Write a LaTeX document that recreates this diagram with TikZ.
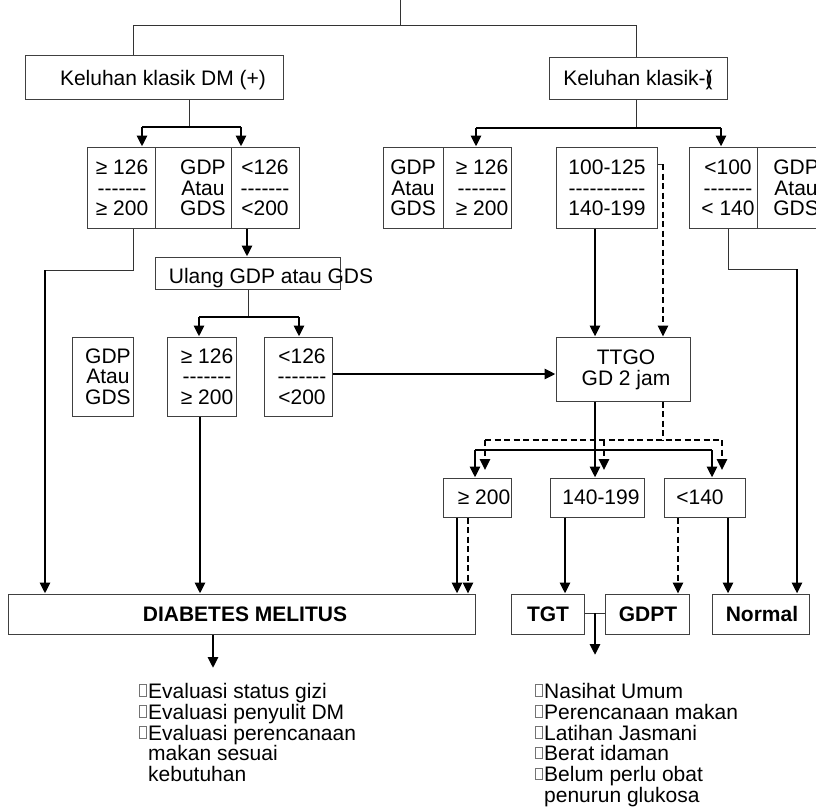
\documentclass[tikz,border=0pt]{standalone}
\usepackage{fontspec}
\setmainfont{Liberation Sans}
\usetikzlibrary{arrows.meta}
\newcommand\hh{-\kern0pt}
\newcommand\sqb{\raisebox{2.5pt}{\fboxsep0pt\fboxrule0.5pt\color{black!55}\fbox{\rule{0pt}{11pt}\hspace{6.5pt}}}\hspace{1.5pt}}
\newcommand\mkbox[5]{\node[box, minimum width={(#4-#2)*1pt}, minimum height={(#5-#3)*1pt}] (#1) at ({(#2+#4)/2},{(#3+#5)/2}) {};}
\begin{document}
\begin{tikzpicture}[x=1pt,y=-1pt,
  box/.style={draw=black!75, line width=1pt, inner sep=0pt},
  t/.style={font=\fontsize{21}{20.5}\selectfont, inner sep=0pt, align=center},
  lst/.style={font=\fontsize{21}{20.8}\selectfont, inner sep=0pt, align=left},
  thinl/.style={line width=1pt, draw=black!80},
  med/.style={line width=1.8pt},
  thk/.style={line width=2.8pt},
  arr/.style={-{Triangle[width=10pt,length=11pt]}},
  dsh/.style={line width=2.5pt, dash pattern=on 6pt off 3.5pt}]
\useasboundingbox (0,0) rectangle (816,806);
% boxes
\mkbox{kdm}{25}{55}{283}{99}
\mkbox{kneg}{549}{57}{727}{99}
\mkbox{a1}{87}{147}{155}{228}
\mkbox{a2}{155}{147}{231}{228}
\mkbox{a3}{231}{147}{299}{228}
\mkbox{ulang}{155}{257}{340}{289}
\mkbox{b0}{72}{337}{133}{416}
\mkbox{b1}{167}{337}{236}{416}
\mkbox{b2}{264}{337}{332}{416}
\mkbox{c0}{383}{147}{443}{228}
\mkbox{c1}{443}{147}{511}{228}
\mkbox{c2}{556}{147}{657}{228}
\mkbox{c3}{689}{147}{757}{228}
\mkbox{c4}{757}{147}{840}{228}
\mkbox{ttgo}{556}{337}{690}{401}
\mkbox{d1}{443}{478}{511}{517}
\mkbox{d2}{550}{478}{644}{517}
\mkbox{d3}{664}{478}{745}{517}
\mkbox{dm}{8}{594}{475}{634}
\mkbox{tgt}{511}{594}{584}{634}
\mkbox{gdpt}{605}{594}{689}{634}
\mkbox{normal}{712}{594}{809}{634}
% texts
\node[t, anchor=base] (kdmT) at (163,85) {Keluhan klasik DM (+)};
\node[t, anchor=base] (knegT) at (638,85) {Keluhan klasik-\rlap{(})};
\node[t] (a1T) at (122,188) {≥ 126\\\hh\hh\hh\hh\hh\hh-\\≥ 200};
\node[t] (a2T) at (203,188) {GDP\\Atau\\GDS};
\node[t] (a3T) at (265,188) {<126\\\hh\hh\hh\hh\hh\hh-\\<200};
\node[t, anchor=base] (ulangT) at (271,283) {Ulang GDP atau GDS};
\node[t] (b0T) at (108,376.5) {GDP\\Atau\\GDS};
\node[t] (b1T) at (207,376.5) {≥ 126\\\hh\hh\hh\hh\hh\hh-\\≥ 200};
\node[t] (b2T) at (302,376.5) {<126\\\hh\hh\hh\hh\hh\hh-\\<200};
\node[t] (c0T) at (413,188) {GDP\\Atau\\GDS};
\node[t] (c1T) at (482,188) {≥ 126\\\hh\hh\hh\hh\hh\hh-\\≥ 200};
\node[t] (c2T) at (607,188) {100-125\\\hh\hh\hh\hh\hh\hh\hh\hh\hh\hh-\\140-199};
\node[t] (c3T) at (728,188) {<100\\\hh\hh\hh\hh\hh\hh-\\< 140};
\node[t] (c4T) at (796,188) {GDP\\Atau\\GDS};
\node[t] (ttgoT) at (626,370) {TTGO\\GD 2 jam};
\node[t, anchor=base] (d1T) at (484,504) {≥ 200};
\node[t, anchor=base] (d2T) at (601,504) {140-199};
\node[t, anchor=base] (d3T) at (700,504) {<140};
\node[t, anchor=base, font=\fontsize{21}{20.5}\selectfont\bfseries] (dmT) at (245,621) {DIABETES MELITUS};
\node[t, anchor=base, font=\fontsize{21}{20.5}\selectfont\bfseries] (tgtT) at (548,621) {TGT};
\node[t, anchor=base, font=\fontsize{21}{20.5}\selectfont\bfseries] (gdptT) at (648,621) {GDPT};
\node[t, anchor=base, font=\fontsize{21}{20.5}\selectfont\bfseries] (normalT) at (762,621) {Normal};
\node[lst, anchor=north west] (L1) at (139,683) {\sqb Evaluasi status gizi\\\sqb Evaluasi penyulit DM\\\sqb Evaluasi perencanaan\\\phantom{\sqb}makan sesuai\\\phantom{\sqb}kebutuhan};
\node[lst, anchor=north west] (L2) at (535,683) {\sqb Nasihat Umum\\\sqb Perencanaan makan\\\sqb Latihan Jasmani\\\sqb Berat idaman\\\sqb Belum perlu obat\\\phantom{\sqb}penurun glukosa};
% coordinates
\coordinate (top) at (400,0);
\coordinate (tj) at (400,25);
\coordinate (jl) at (133,25);
\coordinate (jr) at (636,25);
% top
\draw[thinl] (top) -- (tj);
\draw[thinl] (kdm.north -| jl) -- (jl) -- (jr) -- (kneg.north -| jr);
% left group
\coordinate (k1) at (189,127);
\coordinate (k1a) at (142,127);
\coordinate (k1b) at (241,127);
\draw[thinl] (kdm.south -| k1) -- (k1);
\draw[med] (k1a) -- (k1b);
\draw[thk,arr] (k1a) -- (a1.north -| k1a);
\draw[thk,arr] (k1b) -- (a3.north -| k1b);
\coordinate (u0) at (247,0);
\draw[thk,arr] (a3.south -| u0) -- (ulang.north -| u0);
\coordinate (l1) at (133,270);
\coordinate (l2) at (45,270);
\draw[thinl] (a1.south -| l1) -- (l1) -- (l2);
\draw[thk,arr] (l2) -- (dm.north -| l2);
\coordinate (u1) at (248,317);
\coordinate (u1a) at (199,317);
\coordinate (u1b) at (299,317);
\draw[thinl] (ulang.south -| u1) -- (u1);
\draw[med] (u1a) -- (u1b);
\draw[thk,arr] (u1a) -- (b1.north -| u1a);
\draw[thk,arr] (u1b) -- (b2.north -| u1b);
\coordinate (v1) at (200,0);
\draw[thk,arr] (b1.south -| v1) -- (dm.north -| v1);
\coordinate (h1) at (0,374);
\draw[thk,arr] (b2.east |- h1) -- (ttgo.west |- h1);
% right group
\coordinate (k2) at (636,128);
\coordinate (k2a) at (476,128);
\coordinate (k2b) at (721,128);
\draw[thinl] (kneg.south -| k2) -- (k2);
\draw[med] (k2a) -- (k2b);
\draw[thk,arr] (k2a) -- (c1.north -| k2a);
\draw[thk,arr] (k2b) -- (c3.north -| k2b);
\coordinate (m1) at (595,0);
\draw[thk,arr] (c2.south -| m1) -- (ttgo.north -| m1);
\coordinate (m2) at (663,164);
\draw[thinl] (c2.east |- m2) -- (m2);
\draw[dsh,arr] (m2) -- (ttgo.north -| m2);
\coordinate (r1) at (728,269);
\coordinate (r2) at (797,269);
\draw[thinl] (c3.south -| r1) -- (r1) -- (r2);
\draw[thk,arr] (r2) -- (normal.north -| r2);
% TTGO outputs
\draw[thk,arr] (ttgo.south -| m1) -- (d2.north -| m1);
\coordinate (g0) at (663,440);
\coordinate (g1) at (485,440);
\coordinate (g2) at (604,440);
\coordinate (g3) at (722,440);
\coordinate (g1e) at (485,470);
\coordinate (g2e) at (604,470);
\coordinate (g3e) at (722,470);
\draw[dsh] (ttgo.south -| g0) -- (g0);
\draw[dsh] (g1) -- (g3);
\draw[dsh,arr] (g1) -- (g1e);
\draw[dsh,arr] (g2) -- (g2e);
\draw[dsh,arr] (g3) -- (g3e);
\coordinate (s1) at (475,450);
\coordinate (s3) at (712,450);
\draw[med] (s1) -- (s3);
\draw[thk,arr] (s1) -- (d1.north -| s1);
\draw[thk,arr] (s3) -- (d3.north -| s3);
% row 3 outputs
\coordinate (p1) at (457,0);
\coordinate (p2) at (468,0);
\draw[thk,arr] (d1.south -| p1) -- (dm.north -| p1);
\draw[dsh,arr] (d1.south -| p2) -- (dm.north -| p2);
\coordinate (p3) at (565,0);
\draw[thk,arr] (d2.south -| p3) -- (tgt.north -| p3);
\coordinate (p4) at (678,0);
\coordinate (p5) at (728,0);
\draw[dsh,arr] (d3.south -| p4) -- (gdpt.north -| p4);
\draw[thk,arr] (d3.south -| p5) -- (normal.north -| p5);
% bottom
\coordinate (q0) at (0,613);
\coordinate (q1) at (595,613);
\coordinate (q1e) at (595,655);
\draw[thinl] (tgt.east |- q0) -- (gdpt.west |- q0);
\draw[thk,arr] (q1) -- (q1e);
\coordinate (z0) at (213,0);
\coordinate (z1) at (213,668);
\draw[thk,arr] (dm.south -| z0) -- (z1);
\end{tikzpicture}
\end{document}
